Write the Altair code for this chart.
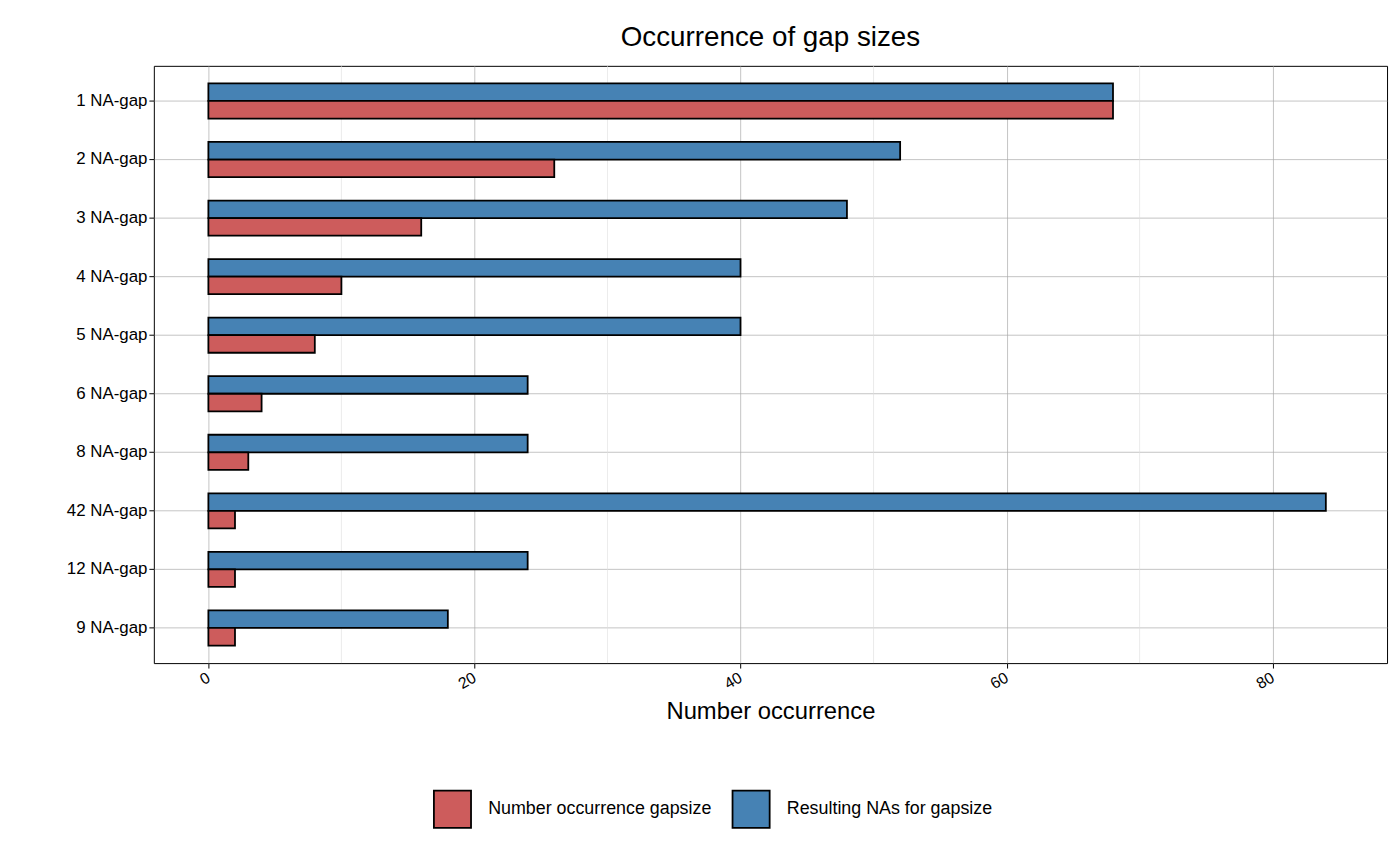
import altair as alt
import pandas as pd

categories = ["1 NA-gap","2 NA-gap","3 NA-gap","4 NA-gap","5 NA-gap","6 NA-gap","8 NA-gap","42 NA-gap","12 NA-gap","9 NA-gap"]
occurrence = [68,26,16,10,8,4,3,2,2,2]
resulting = [68,52,48,40,40,24,24,84,24,18]
series = ["Resulting NAs for gapsize","Number occurrence gapsize"]
minor_ticks = [10,30,50,70]

rows = []
for c, o, r in zip(categories, occurrence, resulting):
    rows.append({"gap": c, "series": series[0], "value": r})
    rows.append({"gap": c, "series": series[1], "value": o})
df = pd.DataFrame(rows)

F = "Liberation Sans"
xscale = alt.Scale(domain=[-4.1, 88.6], nice=False, zero=False)
yscale = alt.Scale(domain=categories, paddingInner=0.4, paddingOuter=0.3)

minor = alt.Chart(pd.DataFrame({"v": minor_ticks})).mark_rule(color="#dddddd", strokeWidth=0.6).encode(
    x=alt.X("v:Q", scale=xscale))

bars = alt.Chart(df).mark_bar(stroke="black", strokeWidth=1.8).encode(
    x=alt.X("value:Q", scale=xscale, title="Number occurrence",
            axis=alt.Axis(values=[0,20,40,60,80], labelAngle=330, labelAlign="right", labelBaseline="middle",
                          labelFontSize=16, titleFontSize=24, titleFontWeight="normal", titlePadding=8,
                          gridColor="#aaaaaa", gridWidth=0.7, tickColor="black", labelColor="black",
                          domain=False, titleColor="black", labelPadding=8)),
    y=alt.Y("gap:N", scale=yscale, sort=categories, title=None,
            axis=alt.Axis(bandPosition=0.5, gridColor="#aaaaaa", gridWidth=0.7, grid=True, domain=False,
                          labelFontSize=17, tickColor="black", labelColor="black", tickBand="center")),
    yOffset=alt.YOffset("series:N", sort=series, scale=alt.Scale(paddingInner=0)),
    fill=alt.Fill("series:N", sort=["Number occurrence gapsize","Resulting NAs for gapsize"],
                  scale=alt.Scale(domain=["Number occurrence gapsize","Resulting NAs for gapsize"],
                                  range=["#CD5C5C","#4682B4"]),
                  legend=alt.Legend(orient="none", legendX=281, legendY=729, direction="horizontal", title=None,
                                    symbolType="square", symbolSize=1400, symbolStrokeColor="black",
                                    symbolStrokeWidth=1.8, labelFontSize=18, labelColor="black",
                                    labelLimit=500, columnPadding=16, labelOffset=16, symbolOpacity=1)),
)

chart = (minor + bars).properties(
    width=1243, height=602,
    title=alt.TitleParams("Occurrence of gap sizes", fontSize=28, fontWeight="normal", font=F, color="black", offset=14),
    padding={"left": 58, "top": 12, "right": 5, "bottom": 5},
).configure(font=F).configure_view(stroke="black", strokeWidth=1)

chart.save("out.html", embed_options={"renderer": "svg", "actions": False})
